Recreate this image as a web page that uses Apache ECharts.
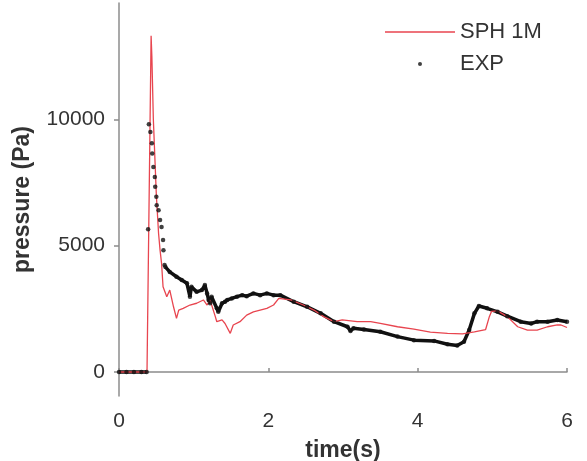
<!DOCTYPE html>
<html>
<head>
<meta charset="utf-8">
<script src="https://cdn.jsdelivr.net/npm/echarts@6/dist/echarts.min.js"></script>
<style>html,body{margin:0;padding:0;background:#fff}#c{width:587px;height:461px}</style>
</head>
<body>
<div id="c"></div>
<script>
// SPH 1M simulation (time s, pressure Pa)
var sphT = [0, 0.375, 0.43, 0.44, 0.46, 0.50, 0.53, 0.55, 0.57, 0.59, 0.64, 0.68, 0.73, 0.77, 0.80, 0.86, 0.95, 1.04, 1.13, 1.18, 1.22, 1.29, 1.31, 1.38, 1.42, 1.49, 1.53, 1.62, 1.71, 1.80, 1.89, 1.98, 2.07, 2.14, 2.30, 2.47, 2.61, 2.74, 2.88, 2.99, 3.19, 3.37, 3.50, 3.73, 3.95, 4.17, 4.40, 4.60, 4.76, 4.91, 4.96, 4.99, 5.07, 5.20, 5.34, 5.47, 5.60, 5.74, 5.87, 5.92, 6.0];
var sphP = [0, 0, 13300, 12500, 10000, 7000, 5480, 4820, 4300, 3370, 2980, 3240, 2580, 2120, 2450, 2520, 2650, 2720, 2850, 2650, 2850, 2190, 1990, 2060, 1920, 1530, 1860, 1990, 2250, 2380, 2450, 2520, 2650, 2910, 2850, 2650, 2450, 2190, 1990, 2060, 1990, 1990, 1920, 1790, 1700, 1580, 1530, 1510, 1590, 1680, 2190, 2400, 2420, 2190, 1790, 1660, 1660, 1790, 1860, 1860, 1760];
// Experiment (time s, pressure Pa)
var expT = [0, 0.1, 0.2, 0.3, 0.37, 0.39, 0.40, 0.42, 0.44, 0.445, 0.46, 0.48, 0.485, 0.50, 0.505, 0.53, 0.55, 0.57, 0.59, 0.595, 0.61, 0.62, 0.68, 0.77, 0.84, 0.91, 0.95, 0.97, 1.04, 1.11, 1.15, 1.18, 1.20, 1.22, 1.24, 1.31, 1.33, 1.38, 1.42, 1.45, 1.51, 1.58, 1.65, 1.71, 1.80, 1.89, 1.98, 2.07, 2.16, 2.34, 2.52, 2.70, 2.88, 3.06, 3.10, 3.14, 3.28, 3.50, 3.73, 3.95, 4.22, 4.40, 4.53, 4.62, 4.69, 4.76, 4.82, 4.93, 5.07, 5.20, 5.38, 5.52, 5.60, 5.74, 5.87, 6.0];
var expP = [0, 0, 0, 0, 0, 5650, 9800, 9500, 9050, 8650, 8110, 7720, 7330, 6930, 6600, 6400, 6010, 5740, 5220, 4820, 4230, 4160, 3960, 3770, 3640, 3510, 2980, 3370, 3170, 3240, 3440, 3110, 2850, 2720, 2980, 2520, 2380, 2720, 2780, 2850, 2910, 2980, 3040, 3000, 3110, 3040, 3110, 3040, 3040, 2780, 2580, 2320, 1990, 1790, 1620, 1730, 1680, 1590, 1400, 1260, 1230, 1100, 1050, 1200, 1660, 2320, 2610, 2520, 2380, 2210, 1990, 1920, 1990, 1990, 2060, 1990];
var yTicks = [0, 5000, 10000];

var sphData = sphT.map(function (t, i) { return [t, sphP[i]]; });
var expData = expT.map(function (t, i) { return [t, expP[i]]; });
// dense part of the experiment (drawn as a thick trace); sparse spike shown as dots only
var expDense = expT.map(function (t, i) { return (t > 0.38 && t < 0.615) ? [t, null] : [t, expP[i]]; });

var axisCol = '#8c8c8c', txtCol = '#333', font = 'Liberation Sans, Arial, sans-serif';
var chart = echarts.init(document.getElementById('c'));
chart.setOption({
  animation: false,
  backgroundColor: '#fff',
  grid: { left: 119, right: 20, top: 3, bottom: 65, outerBoundsMode: 'none', containLabel: false },
  legend: [
    { left: 380, top: 16, itemWidth: 70, itemHeight: 14, itemGap: 0,
      data: [{ name: 'SPH 1M', icon: 'path://M0,0 L70,0 L70,1.4 L0,1.4 Z' }],
      textStyle: { fontSize: 22, color: txtCol, fontFamily: font } },
    { left: 413, top: 48, itemWidth: 4, itemHeight: 4,
      data: [{ name: 'EXP', icon: 'circle' }],
      textStyle: { fontSize: 22, color: txtCol, fontFamily: font, padding: [0, 0, 0, 33] } }
  ],
  xAxis: {
    type: 'value', min: 0, max: 6, interval: 2,
    name: 'time(s)', nameLocation: 'middle', nameGap: 43,
    nameTextStyle: { fontSize: 23, fontWeight: 'bold', color: txtCol, fontFamily: font },
    axisLine: { show: true, lineStyle: { color: axisCol, width: 1.5 } },
    axisTick: { show: true, inside: true, length: 4, lineStyle: { color: axisCol, width: 1.5 } },
    axisLabel: { fontSize: 21, color: txtCol, margin: 15, fontFamily: font },
    splitLine: { show: false }
  },
  yAxis: {
    type: 'value', min: -950, max: 14600,
    name: 'pressure (Pa)', nameLocation: 'middle', nameGap: 85, nameRotate: 90,
    nameTextStyle: { fontSize: 23, fontWeight: 'bold', color: txtCol, fontFamily: font },
    axisLine: { show: true, lineStyle: { color: axisCol, width: 1.5 } },
    axisTick: { show: true, length: 5, customValues: yTicks, lineStyle: { color: axisCol, width: 1.5 } },
    axisLabel: { fontSize: 21, color: txtCol, margin: 14, customValues: yTicks, fontFamily: font,
      formatter: function (v) { return String(v); } },
    splitLine: { show: false }
  },
  series: [
    { name: 'SPH 1M', type: 'line', data: sphData, symbol: 'none', z: 3,
      lineStyle: { color: '#e8454f', width: 1.3 }, itemStyle: { color: '#e8454f' } },
    { name: 'EXP trace', type: 'line', data: expDense, symbol: 'none', connectNulls: false, z: 2,
      lineStyle: { color: '#111', width: 3.5 } },
    { name: 'EXP', type: 'scatter', data: expData, symbol: 'circle', symbolSize: 4.5, z: 4,
      itemStyle: { color: '#111' } }
  ]
});
</script>
</body>
</html>
